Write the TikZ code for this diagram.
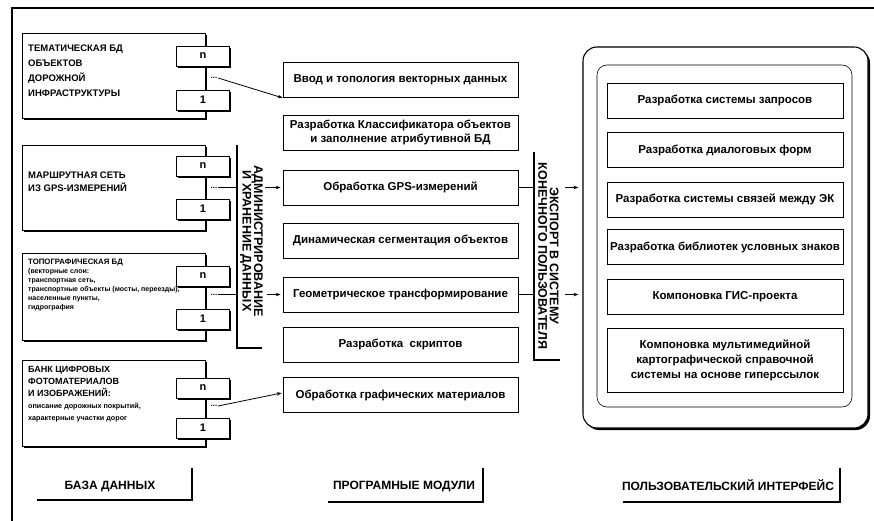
\documentclass[tikz,border=0pt]{standalone}
\usepackage{fontspec}
\setmainfont{Liberation Sans}
\usetikzlibrary{arrows.meta,calc,shadows}
\begin{document}
\begin{tikzpicture}[x=1pt,y=-1pt,
  arr/.style={-{Stealth[length=5pt,width=3.5pt]},line width=0.8pt},
  shd/.style={drop shadow={shadow xshift=1.6pt,shadow yshift=-1.6pt,fill=black,opacity=1}},
  mbox/.style={draw,fill=white,line width=0.7pt,minimum width=235pt,minimum height=35pt,inner sep=0pt,align=center,
     font=\bfseries\fontsize{11.5}{13.5}\selectfont},
  ubox/.style={draw,fill=white,line width=0.7pt,minimum width=236pt,minimum height=35pt,inner sep=0pt,align=center,
     font=\bfseries\fontsize{11.5}{15}\selectfont},
  dbbox/.style={draw,fill=white,line width=0.7pt,minimum width=183pt,inner sep=0pt,shd},
  sbox/.style={draw,fill=white,line width=0.8pt,minimum width=53pt,minimum height=20pt,inner sep=0pt,shd,
     font=\bfseries\fontsize{11}{11}\selectfont},
  dots/.style={inner sep=0.5pt,font=\bfseries\fontsize{8}{8}\selectfont},
  dbtxt/.style={anchor=north west,align=left,inner sep=0pt},
  vlbl/.style={rotate=-90,align=center,inner sep=0pt,font=\bfseries\fontsize{12.5}{11.5}\selectfont},
  bar/.style={line width=2.2pt},
  lbl/.style={inner sep=0pt,font=\bfseries\fontsize{12}{12}\selectfont}]
\useasboundingbox (0,0) rectangle (874,521);
% outer frame
\draw[line width=1.2pt] (874,8) -- (12,8) -- (12,521);

% ---------------- databases ----------------
\node[dbbox,minimum height=85pt] (db1) at (113.5,75.5) {};
\node[dbbox,minimum height=85pt] (db2) at (113.5,187.5) {};
\node[dbbox,minimum height=87pt] (db3) at (113.5,296.5) {};
\node[dbbox,minimum height=86pt] (db4) at (113.5,403) {};

\node[dbtxt,font=\bfseries\fontsize{9.5}{15}\selectfont] (t1) at (28,45)
  {ТЕМАТИЧЕСКАЯ БД\\ОБЪЕКТОВ\\ДОРОЖНОЙ\\ИНФРАСТРУКТУРЫ};
\node[anchor=west,align=left,inner sep=0pt,font=\bfseries\fontsize{9.5}{13}\selectfont] (t2) at (28,182)
  {МАРШРУТНАЯ СЕТЬ\\ИЗ GPS-ИЗМЕРЕНИЙ};
\node[dbtxt,font=\bfseries\fontsize{7}{9}\selectfont] (t3) at (28,259)
  {{\fontsize{7.8}{9}\selectfont ТОПОГРАФИЧЕСКАЯ БД}\\(векторные слои:\\транспортная сеть,\\транспортные объекты (мосты, переезды),\\населенные пункты,\\гидрография};
\node[dbtxt,font=\bfseries\fontsize{9}{12}\selectfont] (t4) at (28,366)
  {БАНК ЦИФРОВЫХ\\ФОТОМАТЕРИАЛОВ\\И ИЗОБРАЖЕНИЙ:\\{\fontsize{7.2}{12}\selectfont описание дорожных покрытий,}\\{\fontsize{7.2}{12}\selectfont характерные участки дорог}};

% vertical links inside db right edge
\foreach \d/\n/\o in {1/56/100,2/166/209,3/276/319,4/388/428}{
  \draw[line width=0.8pt] (db\d.north east) -- (db\d.south east);
  \node[sbox] (n\d) at (203,\n) {n};
  \node[sbox] (o\d) at (203,\o) {1};
}
\node[dots] (d1) at (214,78) {...};
\node[dots] (d2) at (214,187.5) {...};
\node[dots] (d3) at (214,294.5) {...};
\node[dots] (d4) at (214,406) {...};

% ---------------- program modules ----------------
\node[mbox] (m1) at (400.5,80) {Ввод и топология векторных данных};
\node[mbox] (m2) at (400.5,132.5) {Разработка Классификатора объектов\\и заполнение атрибутивной БД};
\node[mbox] (m3) at (400.5,187.5) {Обработка GPS-измерений};
\node[mbox] (m4) at (400.5,240.5) {Динамическая сегментация объектов};
\node[mbox] (m5) at (400.5,294.5) {Геометрическое трансформирование};
\node[mbox] (m6) at (400.5,344.5) {Разработка\ \ скриптов};
\node[mbox] (m7) at (400.5,395) {Обработка графических материалов};

% ---------------- vertical bars ----------------
\coordinate (bLt) at (237,145);
\coordinate (bLb) at (237,348);
\coordinate (bRt) at (534,152);
\coordinate (bRb) at (534,360);
\draw[bar] (bLt) -- (bLb) -- ++(25,0);
\draw[bar] (bRt) -- (bRb) -- ++(26,0);
\node[vlbl] (vL) at (251.5,241) {АДМИНИСТРИРОВАНИЕ\\И ХРАНЕНИЕ ДАННЫХ};
\node[vlbl] (vR) at (548.5,256) {ЭКСПОРТ В СИСТЕМУ\\КОНЕЧНОГО ПОЛЬЗОВАТЕЛЯ};

% ---------------- user interface ----------------
\node[draw,line width=1.1pt,rounded corners=14pt,minimum width=285pt,minimum height=381pt,
      drop shadow={shadow xshift=2pt,shadow yshift=-2pt,fill=black,opacity=1},fill=white] (ui) at (725.5,237.5) {};
\node[draw,line width=0.6pt,rounded corners=10pt,minimum width=255pt,minimum height=342pt] (uin) at (724.5,236) {};
\node[ubox] (u1) at (725,100.5) {Разработка системы запросов};
\node[ubox] (u2) at (725,150) {Разработка диалоговых форм};
\node[ubox] (u3) at (725,199.5) {Разработка системы связей между ЭК};
\node[ubox] (u4) at (725,247) {Разработка библиотек условных знаков};
\node[ubox] (u5) at (725,296.5) {Компоновка ГИС-проекта};
\node[ubox,minimum height=64pt] (u6) at (725,360) {Компоновка мультимедийной\\картографической справочной\\системы на основе гиперссылок};

% ---------------- connectors ----------------
\draw[arr] (d1.east) -- (m1.south west);
\draw[line width=0.8pt] (d2.east) -- (d2.east -| bLt);
\draw[line width=0.8pt] (d3.east) -- (d3.east -| bLt);
\draw[arr] ($(m3.west -| bLt)+(28,0)$) -- ($(m3.west)+(-2,0)$);
\draw[arr] ($(m5.west -| bLt)+(30,0)$) -- ($(m5.west)+(-2,0)$);
\draw[arr] (d4.east) -- ($(m7.west)+(-1,-2)$);
\draw[line width=0.8pt] (m3.east) -- (m3.east -| bRt);
\draw[line width=0.8pt] (m5.east) -- (m5.east -| bRt);
\draw[arr] ($(m3.east -| bRt)+(31,0)$) -- ($(m3.east -| ui.west)+(-4,0)$);
\draw[arr] ($(m5.east -| bRt)+(31,0)$) -- ($(m5.east -| ui.west)+(-4,0)$);

% ---------------- bottom labels ----------------
\node[lbl,anchor=base] (L1) at (110,489) {БАЗА ДАННЫХ};
\draw[bar] (37,500) -- (192,500) -- (192,468);
\node[lbl,anchor=base] (L2) at (404,489) {ПРОГРАМНЫЕ МОДУЛИ};
\draw[bar] (328,502) -- (483,502) -- (483,468);
\node[lbl,anchor=base] (L3) at (728,490) {ПОЛЬЗОВАТЕЛЬСКИЙ ИНТЕРФЕЙС};
\draw[bar] (623,502) -- (840,502) -- (840,468);
\end{tikzpicture}
\end{document}
